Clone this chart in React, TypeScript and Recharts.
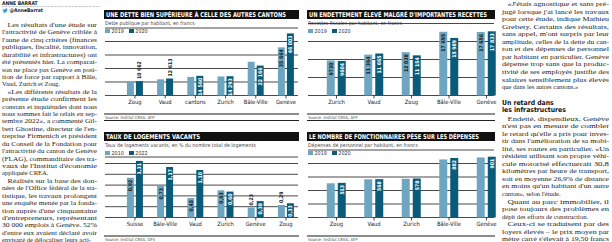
import React from "react";
import { BarChart, Bar, XAxis, YAxis, CartesianGrid, LabelList } from "recharts";

const LIGHT = "#6ea6c1";
const DARK = "#0a5b79";
const SANS = '"Liberation Sans Narrow", "DejaVu Sans Condensed", "Roboto Condensed", Roboto, sans-serif';
const SERIF = '"Liberation Serif", "DejaVu Serif", serif';

// Dette publique par habitant
const debtCantons = ["Zoug", "Vaud", "cantons", "Zurich", "Bâle-Ville", "Genève"];
const debt2019 = [10400, 12000, 13800, 14100, 25000, 35664];
const debt2020 = [10662, 12613, 14560, 14293, 22166, 46003];
const debtLabeled2019 = [false, false, false, false, false, true];
const debtTicks = [0, 10000, 20000, 30000, 40000];

// Recettes fiscales par habitant
const taxCantons = ["Zurich", "Vaud", "Zoug", "Bâle-Ville", "Genève"];
const tax2019 = [9730, 11364, 12038, 17695, 17656];
const tax2020 = [9604, 11665, 11154, 15989, 17833];
const taxTicks = [0, 5000, 10000, 15000];

// Taux de logements vacants
const vacancyPlaces = ["Suisse", "Bâle-Ville", "Vaud", "Zurich", "Genève", "Zoug"];
const vacancy2010 = [0.92, 0.73, 0.45, 0.63, 0.23, 0.29];
const vacancy2022 = [1.31, 1.17, 1.1, 0.6, 0.38, 0.33];
const vacancyTicks = [0, 0.25, 0.5, 0.75, 1, 1.25];

// Dépenses de personnel par habitant
const staffCantons = ["Zoug", "Vaud", "Zurich", "Bâle-Ville", "Genève"];
const staff2019 = [507, 566, 574, 860, 890];
const staff2020 = [513, 568, 578, 882, 901];
const staffLabeled2019 = [false, false, false, false, false];
const staffTicks = [0, 200, 400, 600, 800];

const leftText = [
  [
    "Les résultats d'une étude sur",
    "l'attractivité de Genève criblée à",
    "l'aune de cinq critères (finances",
    "publiques, fiscalité, innovation,",
    "durabilité et infrastructures) ont",
    "été présentés hier. La comparai-",
    "son ne place pas Genève en posi-",
    "tion de force par rapport à Bâle,",
    "Vaud, Zurich et Zoug.",
  ],
  [
    "«Les différents résultats de la",
    "présente étude confirment les",
    "constats et inquiétudes dont nous",
    "nous sommes fait le relais en sep-",
    "tembre 2022», a commenté Gil-",
    "bert Ghostine, directeur de l'en-",
    "treprise Firmenich et président",
    "du Conseil de la Fondation pour",
    "l'attractivité du canton de Genève",
    "(FLAG), commanditaire des tra-",
    "vaux de l'Institut d'économie",
    "appliquée CREA.",
  ],
  [
    "Réalisés sur la base des don-",
    "nées de l'Office fédéral de la sta-",
    "tistique, les travaux prolongent",
    "une enquête menée par la fonda-",
    "tion auprès d'une cinquantaine",
    "d'entrepreneurs, représentant",
    "30 000 emplois à Genève. 52%",
    "d'entre eux avaient déclaré avoir",
    "envisagé de délocaliser leurs acti-",
  ],
];

const rightQuote = [
  [
    "«J'étais agnostique et sans pré-",
    "jugé lorsque j'ai lancé les travaux",
    "pour cette étude, indique Mathieu",
    "Grebety. Certains des résultats,",
    "sans appel, m'ont surpris par leur",
    "amplitude, celles de la dette du can-",
    "ton et des dépenses de personnel",
    "par habitant en particulier. Genève",
    "dépense trop sans que la produc-",
    "tivité de ses employés justifie des",
    "salaires sensiblement plus élevés",
    "que dans les autres cantons.»",
  ],
];

const rightBody = [
  [
    "Endetté, dispendieux, Genève",
    "n'est pas en mesure de combler",
    "le retard qu'elle a pris pour inves-",
    "tir dans l'amélioration de sa mobi-",
    "lité, ses routes en particulier. «Un",
    "résident utilisant son propre véhi-",
    "cule motorisé effectuerait 30,8",
    "kilomètres par heure de transport,",
    "soit en moyenne 26,9% de distance",
    "en moins qu'un habitant d'un autre",
    "canton», selon l'étude.",
  ],
  [
    "Quant au parc immobilier, il",
    "pose toujours des problèmes en",
    "dépit des efforts de construction.",
  ],
  [
    "Ceux-ci se traduisent par des",
    "loyers élevés – le prix moyen par",
    "mètre carré s'élevait à 19,50 francs",
    "en 2020, soit 10,4% de plus que la",
  ],
];

const fmtThousands = (n: number) =>
  n >= 10000 ? `${Math.floor(n / 1000)} ${String(n % 1000).padStart(3, "0")}` : String(n);
const fmtComma = (n: number) => String(n).replace(".", ",");
const fmtComma2 = (n: number) => n.toFixed(2).replace(".", ",");

function makeLabel(show: boolean[] | null, onDark: boolean, fmt: (n: number) => string) {
  return (props: any) => {
    const vb = props.viewBox || props;
    const { x, y, width, height } = vb;
    if (show && !show[props.index]) return null;
    const text = fmt(Number(props.value));
    const cx = x + width / 2;
    const inside = height >= text.length * 2.6 + 3;
    const ty = inside ? y + 2 : y - 2;
    return (
      <text
        x={cx}
        y={ty}
        transform={`rotate(-90 ${cx} ${ty})`}
        textAnchor={inside ? "end" : "start"}
        dominantBaseline="central"
        fontSize={5.2}
        fontWeight={700}
        fontFamily={SANS}
        fill={inside && onDark ? "#fff" : "#1a1a1a"}
      >
        {text}
      </text>
    );
  };
}

type PanelProps = {
  x: number;
  y: number;
  w: number;
  title: string;
  titleW: number;
  subtitle: string;
  years: [string, string];
  source: string;
  cats: string[];
  a: number[];
  b: number[];
  labelA: boolean[] | null;
  ticks: number[];
  max: number;
  fmtTick: (n: number) => string;
  fmtLabel: (n: number) => string;
  firstCenter: number;
  step: number;
  barSize: number;
  barGap: number;
};

function Panel(p: PanelProps) {
  const gridTop = 31.5;
  const base = 85.5;
  const svgTop = 10;
  const topTick = p.ticks[p.ticks.length - 1];
  const plotTop = base - (p.max / topTick) * (base - gridTop);
  const plotLeft = p.firstCenter - p.x - p.step / 2;
  const plotRight = plotLeft + p.step * p.cats.length;
  const svgW = plotRight + 2;
  const svgH = base - svgTop + 14;
  const rows = p.cats.map((c, i) => ({ cat: c, a: p.a[i], b: p.b[i] }));

  const gridLine = (g: any) => (
    <line key={g.key} x1={1} x2={p.w - 1} y1={g.y1} y2={g.y2} stroke="#1a1a1a" strokeWidth={0.8} />
  );
  const yTick = (t: any) => (
    <text x={1} y={t.y - 1.6} fontSize={5} fontFamily={SANS} fill="#333">
      {p.fmtTick(t.payload.value)}
    </text>
  );

  return (
    <div style={{ position: "absolute", left: p.x, top: p.y, width: p.w, height: 112, fontFamily: SANS }}>
      <svg width={p.w} height={9} style={{ position: "absolute", left: 0, top: 0 }}>
        <rect x={0} y={0} width={p.w} height={9} fill="#111" />
        <text
          x={2}
          y={7}
          fontSize={6.6}
          fontWeight={700}
          fontFamily={SANS}
          fill="#fff"
          textLength={p.titleW}
          lengthAdjust="spacingAndGlyphs"
        >
          {p.title}
        </text>
      </svg>
      <div style={{ position: "absolute", left: 1, top: 10, fontSize: 5.2, lineHeight: "6px", color: "#444", whiteSpace: "nowrap" }}>
        {p.subtitle}
      </div>
      <div style={{ position: "absolute", left: 1, top: 18, height: 6, display: "flex", alignItems: "center", fontSize: 5.4, color: "#333" }}>
        <span style={{ display: "inline-block", width: 5, height: 4, background: LIGHT, marginRight: 1.5 }} />
        {p.years[0]}
        <span style={{ display: "inline-block", width: 5, height: 4, background: DARK, marginLeft: 5, marginRight: 1.5 }} />
        {p.years[1]}
      </div>
      <div style={{ position: "absolute", left: 0, top: svgTop }}>
        <BarChart
          width={svgW}
          height={svgH}
          data={rows}
          margin={{ top: plotTop - svgTop, right: 2, bottom: 2, left: plotLeft }}
          barSize={p.barSize}
          barGap={p.barGap}
        >
          <CartesianGrid vertical={false} horizontal={gridLine} />
          <XAxis
            dataKey="cat"
            interval={0}
            axisLine={false}
            tickLine={{ stroke: "#222", strokeWidth: 0.8 }}
            tickSize={3}
            tickMargin={1}
            height={12}
            tick={{ fontSize: 5.8, fill: "#222", fontFamily: SANS }}
          />
          <YAxis
            width={0}
            domain={[0, p.max]}
            ticks={p.ticks}
            interval={0}
            axisLine={false}
            tickLine={false}
            tick={yTick}
          />
          <Bar dataKey="a" fill={LIGHT} isAnimationActive={false}>
            <LabelList dataKey="a" content={makeLabel(p.labelA, false, p.fmtLabel)} />
          </Bar>
          <Bar dataKey="b" fill={DARK} isAnimationActive={false}>
            <LabelList dataKey="b" content={makeLabel(null, true, p.fmtLabel)} />
          </Bar>
        </BarChart>
      </div>
      <div style={{ position: "absolute", left: 0, top: 102.5, width: p.w, height: 2, background: "#8c8c8c" }} />
      <div style={{ position: "absolute", left: 1, top: 105, fontSize: 4.2, lineHeight: "5px", color: "#444", whiteSpace: "nowrap" }}>
        {p.source}
      </div>
      <div style={{ position: "absolute", left: 0, top: 110, width: p.w, height: 0.8, background: "#222" }} />
    </div>
  );
}

function textLines(paras: string[][], x: number, w: number, y0: number, lh: number, indent: number, key: string) {
  const out: React.ReactNode[] = [];
  let y = y0;
  paras.forEach((para, pi) => {
    para.forEach((t, li) => {
      const ix = li === 0 ? indent : 0;
      const last = li === para.length - 1;
      out.push(
        <text
          key={`${key}-${pi}-${li}`}
          x={x + ix}
          y={y + 2}
          fontSize={6.6}
          fontFamily={SERIF}
          fill="#1e1e1e"
          {...(last ? {} : { textLength: w - ix, lengthAdjust: "spacingAndGlyphs" })}
        >
          {t}
        </text>
      );
      y += lh;
    });
  });
  return out;
}

const bird =
  "M23.954 4.569c-.885.389-1.83.654-2.825.775 1.014-.611 1.794-1.574 2.163-2.723-.951.555-2.005.959-3.127 1.184-.896-.959-2.173-1.559-3.591-1.559-2.717 0-4.920 2.203-4.920 4.917 0 .39.045.765.127 1.124C7.691 8.094 4.066 6.13 1.64 3.161c-.427.722-.666 1.561-.666 2.475 0 1.71.87 3.213 2.188 4.096-.807-.026-1.566-.248-2.228-.616v.061c0 2.385 1.693 4.374 3.946 4.827-.413.111-.849.171-1.296.171-.314 0-.615-.03-.916-.086.631 1.953 2.445 3.377 4.604 3.417-1.68 1.319-3.809 2.105-6.102 2.105-.39 0-.779-.023-1.17-.067 2.189 1.394 4.768 2.209 7.557 2.209 9.054 0 13.999-7.496 13.999-13.986 0-.209 0-.42-.015-.63.961-.689 1.8-1.56 2.46-2.548l-.047-.02z";

export default function App() {
  return (
    <div style={{ position: "absolute", left: 0, top: 0, width: 612, height: 242, overflow: "hidden", background: "#fff" }}>
      <svg width={612} height={242} style={{ position: "absolute", left: 0, top: 0 }}>
        <text x={2} y={4.8} fontSize={5} fontWeight={700} fontFamily={SANS} fill="#222">ANNE BARRAT</text>
        <line x1={2} x2={100} y1={6.6} y2={6.6} stroke="#666" strokeWidth={0.6} strokeDasharray="0.7 0.7" />
        <path d={bird} transform="translate(2.5 8) scale(0.22)" fill="#1d9bf0" />
        <text x={9.5} y={12} fontSize={5} fontWeight={700} fontFamily={SANS} fill="#222">@AnneBarrat</text>
        {textLines(leftText, 2, 95, 25, 7.42, 5.5, "l")}
        {textLines(rightQuote, 502, 107, 4, 7.55, 5.5, "q")}
        <text x={502} y={104.8} fontSize={6.8} fontWeight={700} fontFamily={SANS} fill="#111">Un retard dans</text>
        <text x={502} y={112.2} fontSize={6.8} fontWeight={700} fontFamily={SANS} fill="#111">les infrastructures</text>
        {textLines(rightBody, 502, 107, 118.5, 7.55, 5.5, "b")}
      </svg>
      <Panel
        x={104} y={10} w={195}
        title="UNE DETTE BIEN SUPÉRIEURE À CELLE DES AUTRES CANTONS" titleW={180}
        subtitle="Dette publique par habitant, en francs"
        years={["2019", "2020"]}
        source="Source: Institut CREA, AFP"
        cats={debtCantons} a={debt2019} b={debt2020} labelA={debtLabeled2019}
        ticks={debtTicks} max={50000} fmtTick={fmtThousands} fmtLabel={fmtThousands}
        firstCenter={135} step={30.2} barSize={7} barGap={2}
      />
      <Panel
        x={307} y={10} w={188}
        title="UN ENDETTEMENT ÉLEVÉ MALGRÉ D'IMPORTANTES RECETTES" titleW={178}
        subtitle="Recettes fiscales par habitant, en francs"
        years={["2019", "2020"]}
        source="Source: Institut CREA, AFP"
        cats={taxCantons} a={tax2019} b={tax2020} labelA={null}
        ticks={taxTicks} max={20000} fmtTick={fmtThousands} fmtLabel={fmtThousands}
        firstCenter={336.5} step={37.5} barSize={8} barGap={3}
      />
      <Panel
        x={104} y={132} w={195}
        title="TAUX DE LOGEMENTS VACANTS" titleW={94}
        subtitle="Taux de logements vacants, en % du nombre total de logements"
        years={["2010", "2022"]}
        source="Source: Institut CREA, OFS"
        cats={vacancyPlaces} a={vacancy2010} b={vacancy2022} labelA={null}
        ticks={vacancyTicks} max={1.4} fmtTick={fmtComma} fmtLabel={fmtComma2}
        firstCenter={135} step={30.2} barSize={7} barGap={2}
      />
      <Panel
        x={307} y={132} w={188}
        title="LE NOMBRE DE FONCTIONNAIRES PÈSE SUR LES DÉPENSES" titleW={170}
        subtitle="Dépenses de personnel par habitant, en francs"
        years={["2019", "2020"]}
        source="Source: Institut CREA, AFP"
        cats={staffCantons} a={staff2019} b={staff2020} labelA={staffLabeled2019}
        ticks={staffTicks} max={1000} fmtTick={fmtThousands} fmtLabel={fmtThousands}
        firstCenter={336.5} step={37.5} barSize={8} barGap={3}
      />
    </div>
  );
}
